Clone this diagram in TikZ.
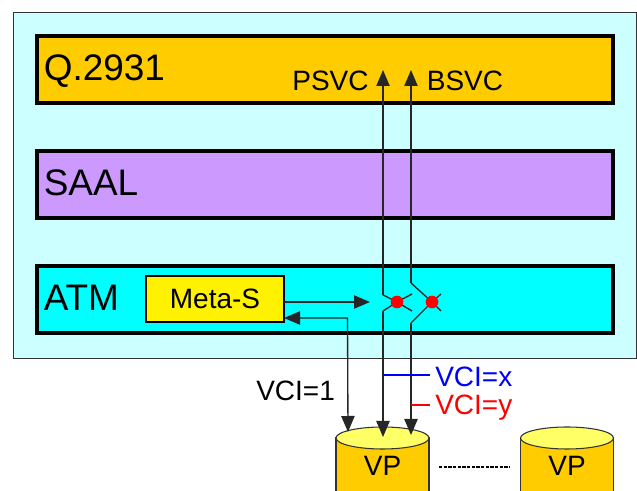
\documentclass[tikz,border=0pt]{standalone}
\usepackage{fontspec}
\setmainfont{Liberation Sans}
\usepackage{tikz}
\usetikzlibrary{arrows.meta}
\definecolor{shellblue}{HTML}{CCFFFF}
\definecolor{bandgold}{HTML}{FFCC00}
\definecolor{bandviolet}{HTML}{CC99FF}
\definecolor{bandcyan}{HTML}{00FFFF}
\definecolor{vptop}{HTML}{FFFF66}
\begin{document}
\begin{tikzpicture}[x=0.75pt,y=-0.75pt,
   band/.style={draw,line width=3pt,minimum width=432pt,minimum height=50.25pt,inner sep=0pt,outer sep=0pt},
   bandlab/.style={anchor=west,inner sep=0pt,font=\fontsize{27.7}{30}\selectfont},
   lab/.style={inner sep=0pt,font=\fontsize{21}{24}\selectfont},
   conn/.style={line width=1pt,black!85,>={Triangle[length=12pt,width=10pt]}},
   swdot/.style={circle,fill=red,minimum size=9.5pt,inner sep=0pt},
   vpcyl/.style={draw=black!80,line width=0.8pt}]
\useasboundingbox (0,0) rectangle (637,491);
\fill[white] (0,0) rectangle (637,491);
\node[draw=black!80,line width=0.8pt,fill=shellblue,minimum width=467pt,minimum height=259.5pt,anchor=north west,inner sep=0pt] (shell) at (13,12) {};
% the three layers
\foreach \nm/\y/\ly/\col/\txt in {q/69.5/74/bandgold/Q.2931,saal/184.5/186/bandviolet/SAAL,atm/299.5/301/bandcyan/ATM} {
   \node[band,fill=\col] (\nm) at (325,\y) {};
   \node[bandlab] (\nm lab) at (43.5,\ly-3) {\txt};
}
\node[draw,line width=0.9pt,fill=yellow,minimum width=103.5pt,minimum height=34.5pt,inner sep=0pt,outer sep=0pt,font=\fontsize{21}{24}\selectfont] (meta) at (215,299) {Meta-S};
\node[lab] (psvc) at (330.5,81) {PSVC};
\node[lab] (bsvc) at (465,81) {BSVC};
% cylinders
\foreach \nm/\x in {vpa/382.5,vpb/567} {
   \filldraw[vpcyl,fill=bandgold] (\x-46.5,438) -- (\x-46.5,510) -- (\x+46.5,510) -- (\x+46.5,438) -- cycle;
   \filldraw[vpcyl,fill=vptop] (\x,438) ellipse (46.5 and 11);
   \node[lab] (\nm) at (\x,466) {VP};
}
\draw[line width=0.9pt,dash pattern=on 2.4pt off 1.1pt] (439,467) coordinate (dota) -- (510,467) coordinate (dotb);
% switches
\coordinate (pbot) at (383,437);
\coordinate (ptop) at (383,70);
\coordinate (bbot) at (411,435);
\coordinate (btop) at (411,70);
\coordinate (swa) at (397,302);
\coordinate (swb) at (432,302);
\draw[conn,->] (383,295) -- (ptop);
\draw[conn,->] (383,311) -- (pbot);
\draw[conn] (383,295) -- (swa) -- (412,311);
\draw[conn] (383,311) -- (swa) -- (412,294);
\draw[conn,->] (411,283) -- (btop);
\draw[conn,->] (411,323) -- (bbot);
\draw[conn] (411,283) -- (swb) -- (441,311);
\draw[conn] (411,323) -- (swb) -- (441,294);
\node[swdot] at (swa) {};
\node[swdot] at (swb) {};
% links from Meta-S
\draw[conn,->] (meta.east |- swa) -- (370,302);
\coordinate (vcibot) at (348,432);
\draw[conn,<->] (meta.east |- 0,318) -- (347.5,318) -- (vcibot);
% labels
\node[lab,anchor=west] (vcione) at (256,391) {VCI=1};
\node[lab,anchor=west,blue] (vcix) at (435,377) {VCI=x};
\node[lab,anchor=west,red] (vciy) at (435,408) {VCI=y};
\draw[blue,line width=0.9pt] (pbot |- 0,375) -- (430,375);
\draw[red,line width=0.9pt] (bbot |- 0,405) -- (430,405);
\end{tikzpicture}
\end{document}
